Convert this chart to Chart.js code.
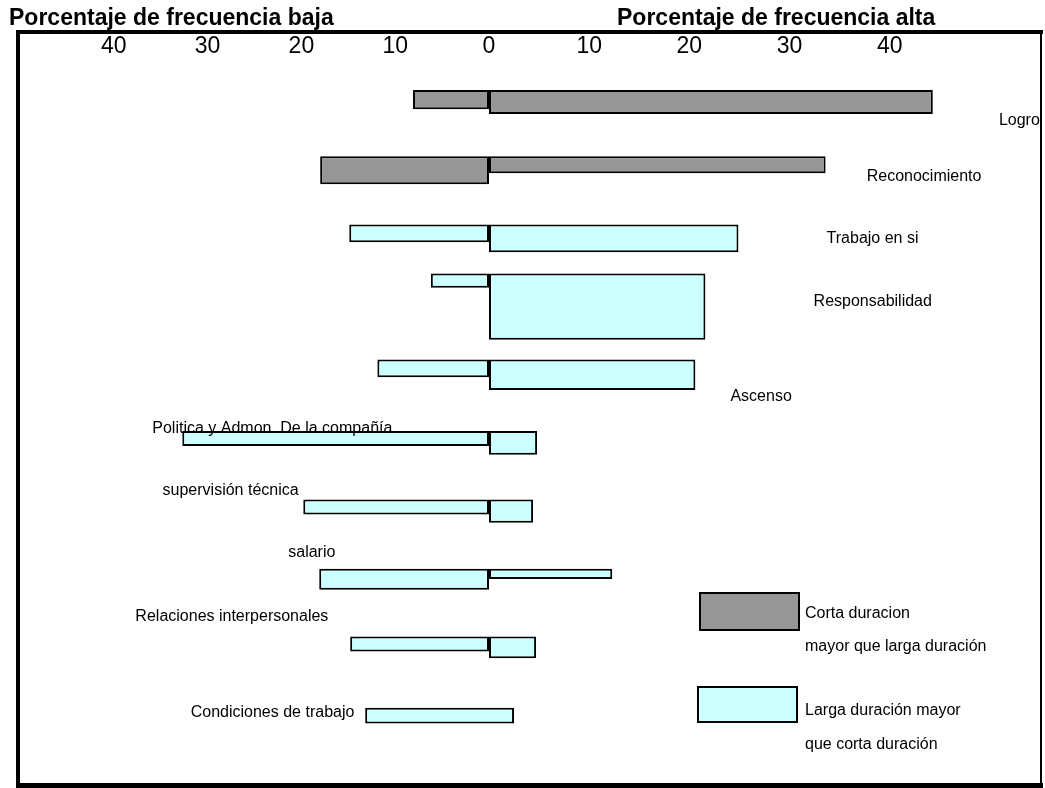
<!DOCTYPE html>
<html>
<head>
<meta charset="utf-8">
<title>Factores de satisfacción e insatisfacción</title>
<script src="https://cdn.jsdelivr.net/npm/chart.js@4.4.1/dist/chart.umd.min.js"></script>
<style>
  html, body { margin: 0; padding: 0; background: #ffffff; }
  #lienzo { display: block; }
</style>
</head>
<body>
<canvas id="lienzo" width="1045" height="788"></canvas>
<script>
// Factores, de arriba abajo
const factores = [
  'Logro', 'Reconocimiento', 'Trabajo en si', 'Responsabilidad', 'Ascenso',
  'Politica y Admon. De la compañía', 'supervisión técnica', 'salario',
  'Relaciones interpersonales', 'Condiciones de trabajo'
];
// Porcentaje de frecuencia baja (lado izquierdo) y alta (lado derecho)
const frecuenciaBaja = [8.1, 18.0, 14.9, 6.2, 11.9, 32.7, 19.8, 18.1, 14.8, 13.2];
const frecuenciaAlta = [44.3, 33.6, 24.9, 21.6, 20.6, 4.8, 4.4, 12.3, 4.7, 2.5];
// Duración relativa del efecto, en filas: es el grosor de cada barra
const duracionBaja = [0.28, 0.41, 0.26, 0.21, 0.26, 0.22, 0.22, 0.31, 0.22, 0.23];
const duracionAlta = [0.35, 0.25, 0.41, 0.97, 0.45, 0.35, 0.34, 0.15, 0.32, 0.23];
// Qué duración predomina en cada factor
const predominio = ['corta', 'corta', 'larga', 'larga', 'larga', 'larga', 'larga', 'larga', 'larga', 'larga'];
// Factores cuya barra se dibuja de un solo tramo a ambos lados del cero
const tramoUnico = ['Condiciones de trabajo'];
// Marcas de los ejes
const marcasBaja = [0, 10, 20, 30, 40];
const marcasAlta = [10, 20, 30, 40];

const COLORES = { corta: '#969696', larga: '#CCFFFF' };
const FUENTE = '"Liberation Sans", Arial, Helvetica, sans-serif';

// Grosor de la fila: el de su barra más gruesa; las dos barras comparten borde superior
const grosorFila = factores.map((_, i) => Math.max(duracionBaja[i], duracionAlta[i]));

// Dónde va el nombre de cada factor, en unidades de los ejes
const anclas = [
  { eje: 'xAlta', x: 50.9, fila: 0.34 },
  { eje: 'xAlta', x: 37.7, fila: 1.16 },
  { eje: 'xAlta', x: 33.7, fila: 2.07 },
  { eje: 'xAlta', x: 32.4, fila: 2.99 },
  { eje: 'xAlta', x: 24.1, fila: 4.39 },
  { eje: 'xBaja', x: 35.9, fila: 4.85 },
  { eje: 'xBaja', x: 34.8, fila: 5.76 },
  { eje: 'xBaja', x: 21.4, fila: 6.67 },
  { eje: 'xBaja', x: 37.7, fila: 7.61 },
  { eje: 'xBaja', x: 31.8, fila: 9.02 }
];

// Barras centradas en su fila como conjunto, alineadas por arriba y con grosor propio
class BarraDuracion extends Chart.BarController {
  static id = 'barraDuracion';
  _calculateBarIndexPixels(index) {
    const iScale = this._cachedMeta.iScale;
    const fila = this.getParsed(index)[iScale.axis];
    const arriba = fila - grosorFila[index] / 2;
    const base = iScale.getPixelForValue(arriba);
    const head = iScale.getPixelForValue(arriba + this.getDataset().duracion[index]);
    const size = head - base;
    return { base, head, center: base + size / 2, size };
  }
}
Chart.register(BarraDuracion);

const puntos = (valores) => valores.map((v, i) => ({ x: v, y: i }));

const estiloBarra = {
  backgroundColor: (c) => COLORES[predominio[c.dataIndex]],
  borderColor: '#000000',
  borderWidth: 2,
  borderSkipped: (c) => (tramoUnico.includes(factores[c.dataIndex]) ? 'start' : false)
};

const ejeFrecuencia = (marcas, extra) => Object.assign({
  type: 'linear',
  position: 'top',
  stack: 'frecuencia',
  min: 0,
  grid: { display: false, drawTicks: false },
  border: { display: false },
  afterBuildTicks: (s) => { s.ticks = marcas.map((v) => ({ value: v })); },
  afterFit: (s) => { s.height = 40; },
  ticks: {
    padding: 10,
    autoSkip: false,
    maxRotation: 0,
    color: '#000000',
    font: { family: FUENTE, size: 23 }
  }
}, extra);

const decorado = {
  id: 'decorado',
  afterDraw(chart) {
    const { ctx, scales } = chart;
    ctx.save();
    ctx.fillStyle = '#000000';
    ctx.textAlign = 'left';
    ctx.textBaseline = 'alphabetic';

    // Títulos de cada lado
    ctx.font = 'bold 23px ' + FUENTE;
    ctx.fillText('Porcentaje de frecuencia baja', 9, 25);
    ctx.fillText('Porcentaje de frecuencia alta', 617, 25);

    // Nombres de los factores
    ctx.font = '16px ' + FUENTE;
    factores.forEach((nombre, i) => {
      const a = anclas[i];
      ctx.fillText(nombre, scales[a.eje].getPixelForValue(a.x), scales.y.getPixelForValue(a.fila));
    });

    // Leyenda
    const entradas = [
      { tipo: 'corta', caja: [699, 592, 101, 39], lineas: ['Corta duracion', 'mayor que larga duración'], y: [618, 651] },
      { tipo: 'larga', caja: [697, 686, 101, 37], lineas: ['Larga duración mayor', 'que corta duración'], y: [715, 749] }
    ];
    entradas.forEach((e) => {
      const [x, y, w, h] = e.caja;
      ctx.fillStyle = '#000000';
      ctx.fillRect(x, y, w, h);
      ctx.fillStyle = COLORES[e.tipo];
      ctx.fillRect(x + 2, y + 2, w - 4, h - 4);
      ctx.fillStyle = '#000000';
      e.lineas.forEach((t, k) => ctx.fillText(t, 805, e.y[k]));
    });

    // Marco
    ctx.fillRect(16, 30, 1027, 4);
    ctx.fillRect(16, 30, 4, 758);
    ctx.fillRect(1040, 30, 2, 758);
    ctx.fillRect(16, 783, 1027, 5);
    ctx.restore();
  }
};

new Chart(document.getElementById('lienzo'), {
  type: 'barraDuracion',
  data: {
    labels: factores,
    datasets: [
      Object.assign({ label: 'Frecuencia baja', xAxisID: 'xBaja', yAxisID: 'y', data: puntos(frecuenciaBaja), duracion: duracionBaja }, estiloBarra),
      Object.assign({ label: 'Frecuencia alta', xAxisID: 'xAlta', yAxisID: 'y', data: puntos(frecuenciaAlta), duracion: duracionAlta }, estiloBarra)
    ]
  },
  options: {
    responsive: false,
    animation: false,
    indexAxis: 'y',
    layout: { padding: { top: 30, left: 20, right: 5, bottom: 11 } },
    plugins: { legend: { display: false }, tooltip: { enabled: false } },
    scales: {
      // los ejes superiores apilados se colocan en orden inverso al declarado
      xAlta: ejeFrecuencia(marcasAlta, { max: 55, stackWeight: 551 }),
      xBaja: ejeFrecuencia(marcasBaja, { reverse: true, max: 50, stackWeight: 469 }),
      y: { type: 'linear', display: false, reverse: true, offset: false, min: -0.47, max: 9.9 }
    }
  },
  plugins: [decorado]
});
</script>
</body>
</html>
